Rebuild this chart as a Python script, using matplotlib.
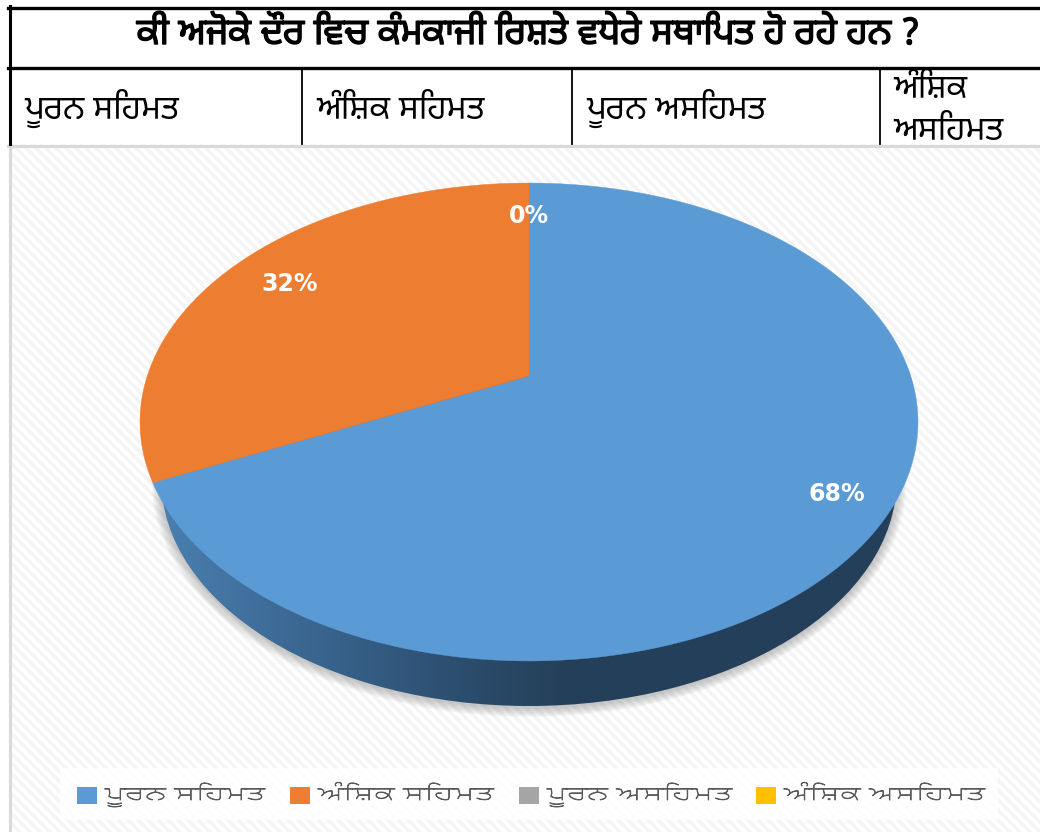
import re
import numpy as np
import matplotlib
matplotlib.use("Agg")
import matplotlib.pyplot as plt
import matplotlib.patheffects as pe
from matplotlib.patches import Ellipse, Polygon, Rectangle
from matplotlib.colors import LinearSegmentedColormap

plt.rcParams['font.family'] = ['Noto Sans Gurmukhi', 'DejaVu Sans']
WIDE = ['BhuTuka Expanded One', 'Noto Sans Gurmukhi', 'DejaVu Sans']

# --- Data ---
title = "ਕੀ ਅਜੋਕੇ ਦੌਰ ਵਿਚ ਕੰਮਕਾਜੀ ਰਿਸ਼ਤੇ ਵਧੇਰੇ ਸਥਾਪਿਤ ਹੋ ਰਹੇ ਹਨ ?"
labels = ["ਪੂਰਨ ਸਹਿਮਤ", "ਅੰਸ਼ਿਕ ਸਹਿਮਤ", "ਪੂਰਨ ਅਸਹਿਮਤ", "ਅੰਸ਼ਿਕ ਅਸਹਿਮਤ"]
values = [68, 32, 0, 0]
colors = ["#5b9bd5", "#ed7d31", "#a5a5a5", "#ffc000"]
label_radius = [0.87, 0.805, 0.80, 0.80]

# --- Pie geometry (pixels), slightly tilted so the apex sits above the ellipse centre ---
CX, APEX_Y = 529, 376
A, B, K = 381.7, 230.1, 0.1925
RIM_RX, RIM_RY = 389, 239


def shaped(s):
    # matplotlib does no shaping: use the single sha glyph, and the sihari
    # has to come before its consonant
    s = s.replace("\u0a38\u0a3c", "\u0a36")
    return re.sub("(\\S)\u0a3f", "\u0a3f\\1", s)


def project(r, theta):
    # theta in degrees, clockwise from the top of the pie
    u = r * np.sin(np.radians(theta))
    v = r * np.cos(np.radians(theta))
    d = 1 + K * v
    return CX + A * u / d, APEX_Y - B * v / d


fig = plt.figure(figsize=(10.4, 8.32), dpi=100)
ax = fig.add_axes([0, 0, 1, 1])

# --- Panel background with soft diagonal stripes ---
yy, xx = np.mgrid[0:688, 0:1030]
stripes = ((xx - yy) % 10 < 5).astype(float)
bg = LinearSegmentedColormap.from_list("bg", ["#ffffff", "#f4f4f4"])
ax.imshow(stripes, cmap=bg, extent=(10, 1040, 832, 144), aspect="auto",
          interpolation="bilinear", zorder=0)
ax.plot([9.5, 9.5], [146, 832], color="#d9d9d9", lw=2.2, zorder=1)
ax.plot([8, 1040], [145.5, 145.5], color="#d9d9d9", lw=2.2, zorder=1)

# --- Table header ---
ax.plot([8, 1040], [7.5, 7.5], color="black", lw=2.4, zorder=3)
ax.plot([8, 1040], [67.5, 67.5], color="black", lw=2.4, zorder=3)
ax.plot([9.5, 9.5], [6, 144], color="black", lw=2.2, zorder=3)
for x in [302, 572, 880]:
    ax.plot([x, x], [68, 144], color="black", lw=1.3, zorder=3)

ax.text(528, 44, shaped(title), ha="center", va="baseline", fontsize=26.4,
        color="black", path_effects=[pe.withStroke(linewidth=1.0, foreground="black")])
for x, t in zip([24, 316, 586], labels[:3]):
    ax.text(x, 119, shaped(t), va="baseline", fontsize=24, color="black")
w1, w2 = labels[3].split(" ")
ax.text(893, 98, shaped(w1), va="baseline", fontsize=24, color="black")
ax.text(893, 140, shaped(w2), va="baseline", fontsize=24, color="black")

# --- Soft shadow below the pie ---
s = 0.945
low_rx, low_ry = RIM_RX * s, RIM_RY * s
low_cy = 706 - low_ry
for g in np.arange(1, 11):
    ax.add_patch(Ellipse((CX, low_cy + 1), 2 * (low_rx + g), 2 * (low_ry + g),
                         color="#808080", alpha=0.05, lw=0, zorder=2))

# --- Pie side: dark gradient, lighter towards the left ---
xs = np.linspace(0, 1, 256)[None, :]
side = LinearSegmentedColormap.from_list(
    "side", [(0, "#4a7fb0"), (0.2, "#3a6690"), (0.42, "#2b4c6c"),
             (0.55, "#243f59"), (1, "#243f59")])
clip = Ellipse((CX, low_cy), 2 * low_rx, 2 * low_ry, transform=ax.transData)
im = ax.imshow(xs, cmap=side, extent=(CX - low_rx, CX + low_rx, low_cy + low_ry, low_cy - low_ry),
               aspect="auto", zorder=4)
im.set_clip_path(clip)

# --- Pie top ---
start = 0.0
total = sum(values)
for val, col in zip(values, colors):
    sweep = 360.0 * val / total
    if sweep > 0:
        th = np.linspace(start, start + sweep, 300)
        px, py = project(1.0, th)
        pts = np.column_stack([np.r_[CX, px], np.r_[APEX_Y, py]])
        ax.add_patch(Polygon(pts, closed=True, facecolor=col, edgecolor=col, lw=0.3, zorder=5))
    start += sweep

# --- Value labels (the two zero shares fall on the same spot at the top) ---
start = 0.0
seen = set()
for val, r in zip(values, label_radius):
    sweep = 360.0 * val / total
    key = (val, start + sweep / 2)
    if key not in seen:
        seen.add(key)
        lx, ly = project(r, start + sweep / 2)
        ax.text(lx, ly, f"{val}%", ha="center", va="center", fontsize=17, weight="bold",
                family="DejaVu Sans", color="white", zorder=6)
    start += sweep

# --- Legend ---
ax.add_patch(Rectangle((60, 768), 938, 52, facecolor="white", edgecolor="none", alpha=0.9, zorder=2))
for x, col, t in zip([77, 290, 519, 756], colors, labels):
    ax.add_patch(Rectangle((x, 787), 20, 17, facecolor=col, edgecolor="none", zorder=3))
    ax.text(x + 28, 800, shaped(t), va="baseline", fontsize=16.7, family=WIDE, color="#595959", zorder=3,
            path_effects=[pe.withStroke(linewidth=0.6, foreground="#595959")])

ax.set_xlim(0, 1040)
ax.set_ylim(832, 0)
ax.axis("off")
fig.savefig("out.png", dpi=100)
